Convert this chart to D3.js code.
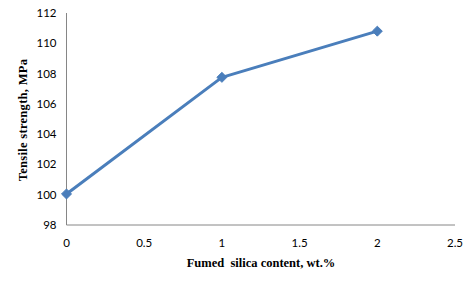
<!DOCTYPE html>
<html>
<head>
<meta charset="utf-8">
<script src="https://cdn.jsdelivr.net/npm/d3@7"></script>
<style>
  body { margin: 0; background: #fff; }
  svg { display: block; }
</style>
</head>
<body>
<svg id="chart"></svg>
<script>
// data
const silica = [0, 1, 2];
const strength = [100.05, 107.75, 110.8];
const xTicks = [0, 0.5, 1, 1.5, 2, 2.5];
const yTicks = [98, 100, 102, 104, 106, 108, 110, 112];

const width = 476, height = 284;
const margin = { top: 13, right: 21, bottom: 59, left: 66.5 };

const svg = d3.select('#chart')
  .attr('width', width)
  .attr('height', height);

const x = d3.scaleLinear().domain([0, 2.5]).range([margin.left, width - margin.right]);
const y = d3.scaleLinear().domain([98, 112]).range([height - margin.bottom, margin.top]);

const tickFont = 'Lato, "Open Sans", sans-serif';
const titleFont = '"Liberation Serif", "Times New Roman", serif';

// axis lines
svg.append('line')
  .attr('x1', x(0)).attr('x2', x(0))
  .attr('y1', y(112)).attr('y2', y(98))
  .attr('stroke', '#868686').attr('stroke-width', 1);
svg.append('line')
  .attr('x1', x(0)).attr('x2', x(2.5))
  .attr('y1', y(98)).attr('y2', y(98))
  .attr('stroke', '#868686').attr('stroke-width', 1);

// tick labels
svg.append('g').selectAll('text')
  .data(yTicks)
  .join('text')
  .attr('x', x(0) - 10)
  .attr('y', d => y(d))
  .attr('dy', '0.35em')
  .attr('text-anchor', 'end')
  .attr('font-family', tickFont)
  .attr('font-size', '11.5px')
  .attr('fill', '#000')
  .text(d => d);

svg.append('g').selectAll('text')
  .data(xTicks)
  .join('text')
  .attr('x', d => x(d))
  .attr('y', y(98) + 22)
  .attr('text-anchor', 'middle')
  .attr('font-family', tickFont)
  .attr('font-size', '11.5px')
  .attr('fill', '#000')
  .text(d => d);

// axis titles
svg.append('text')
  .attr('x', 261)
  .attr('y', 267)
  .attr('text-anchor', 'middle')
  .attr('font-family', titleFont)
  .attr('font-weight', 'bold')
  .attr('font-size', '12.5px')
  .attr('xml:space', 'preserve')
  .text('Fumed  silica content, wt.%');

svg.append('text')
  .attr('transform', 'translate(27,120) rotate(-90)')
  .attr('text-anchor', 'middle')
  .attr('font-family', titleFont)
  .attr('font-weight', 'bold')
  .attr('font-size', '12.5px')
  .attr('letter-spacing', '0.3px')
  .text('Tensile strength, MPa');

// series
const pts = silica.map((s, i) => [s, strength[i]]);
const line = d3.line().x(d => x(d[0])).y(d => y(d[1]));

svg.append('path')
  .datum(pts)
  .attr('d', line)
  .attr('fill', 'none')
  .attr('stroke', '#4a7ebb')
  .attr('stroke-width', 3)
  .attr('stroke-linejoin', 'round');

svg.append('g').selectAll('path')
  .data(pts)
  .join('path')
  .attr('d', d3.symbol().type(d3.symbolDiamond2).size(64))
  .attr('transform', d => `translate(${x(d[0])},${y(d[1])})`)
  .attr('fill', '#4a7ebb')
  .attr('stroke', '#4a7ebb');
</script>
</body>
</html>
